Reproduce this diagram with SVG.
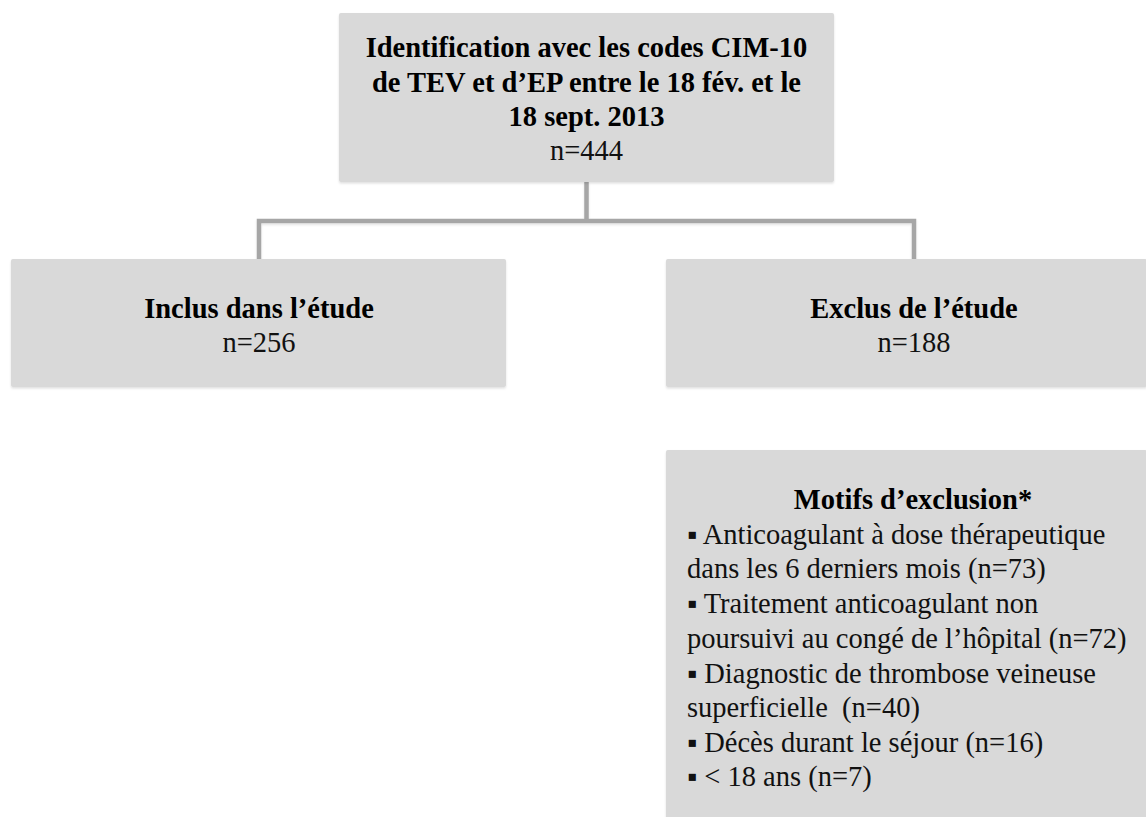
<svg xmlns="http://www.w3.org/2000/svg" width="1146" height="817" viewBox="0 0 1146 817">
<defs>
<filter id="sh" x="-5%" y="-5%" width="110%" height="115%">
<feDropShadow dx="0" dy="1.5" stdDeviation="1" flood-color="#000" flood-opacity="0.12"/>
</filter>
</defs>
<style>
.box{fill:#d9d9d9;filter:url(#sh)}
.b{font-family:"Liberation Serif","Times New Roman",serif;font-weight:bold;font-size:28.5px;fill:#000;text-anchor:middle}
.r{font-family:"Liberation Serif","Times New Roman",serif;font-size:28.5px;fill:#111}
.c{text-anchor:middle}
.conn{fill:none;stroke:#a6a6a6;stroke-width:4.5;filter:url(#sh)}
</style>
<rect width="1146" height="817" fill="#fff"/>
<g id="connectors">
<path class="conn" d="M586.5 182 V221 M259 259 V221 H914 V259"/>
<path class="conn" d="M914 387 V450"/>
</g>
<g id="node-identification">
<rect class="box" x="339" y="13" width="495" height="169" rx="2"/>
<text class="b" x="586.5" y="57">Identification avec les codes CIM-10</text>
<text class="b" x="586.5" y="92">de TEV et d’EP entre le 18 fév. et le</text>
<text class="b" x="586.5" y="126">18 sept. 2013</text>
<text class="r c" x="586.5" y="160">n=444</text>
</g>
<g id="node-inclus">
<rect class="box" x="11" y="259" width="495" height="128" rx="2"/>
<text class="b" x="259" y="318">Inclus dans l’étude</text>
<text class="r c" x="259" y="352">n=256</text>
</g>
<g id="node-exclus">
<rect class="box" x="666" y="259" width="481" height="128" rx="2"/>
<text class="b" x="914" y="318">Exclus de l’étude</text>
<text class="r c" x="914" y="352">n=188</text>
</g>
<g id="node-motifs">
<rect class="box" x="666" y="450" width="481" height="370" rx="2"/>
<text class="b" x="913" y="509">Motifs d’exclusion*</text>
<text class="r" x="687" y="544">▪ Anticoagulant à dose thérapeutique</text>
<text class="r" x="687" y="578">dans les 6 derniers mois (n=73)</text>
<text class="r" x="687" y="613">▪ Traitement anticoagulant non</text>
<text class="r" x="687" y="648">poursuivi au congé de l’hôpital (n=72)</text>
<text class="r" x="687" y="683">▪ Diagnostic de thrombose veineuse</text>
<text class="r" x="687" y="717" xml:space="preserve">superficielle  (n=40)</text>
<text class="r" x="687" y="752">▪ Décès durant le séjour (n=16)</text>
<text class="r" x="687" y="786">▪ &lt; 18 ans (n=7)</text>
</g>
</svg>
